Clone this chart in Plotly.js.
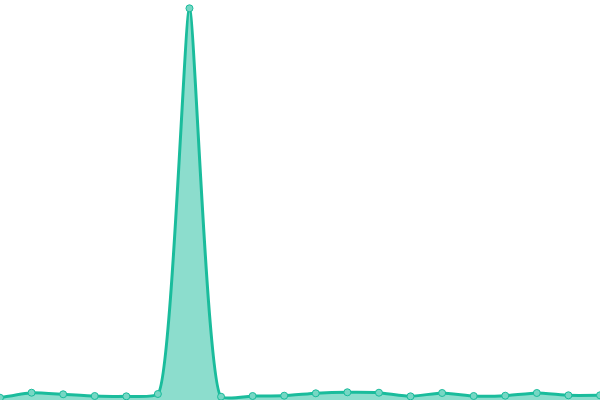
<!DOCTYPE html>
<html><head><meta charset="utf-8">
<script src="https://cdn.plot.ly/plotly-3.0.1.min.js"></script>
<style>html,body{margin:0;padding:0;background:#fff}#chart{width:600px;height:400px}</style>
</head><body><div id="chart"></div>
<script>
const xs = [0,1,2,3,4,5,6,7,8,9,10,11,12,13,14,15,16,17,18,19];
const values = [0.59,1.86,1.46,1.02,0.94,1.53,100,0.84,1.02,1.1,1.71,1.97,1.86,0.94,1.79,1.02,1.1,1.79,1.2,1.2];
Plotly.newPlot('chart', [{
  x: xs, y: values, type: 'scatter', mode: 'lines+markers',
  fill: 'tozeroy', fillcolor: 'rgba(26,188,156,0.5)',
  line: {shape: 'spline', smoothing: 0.45, color: '#1abc9c', width: 3},
  marker: {size: 7, color: '#76d7c4', line: {color: '#1abc9c', width: 1}},
  hoverinfo: 'none'
}], {
  width: 600, height: 400,
  margin: {l: 0, r: 0, t: 0, b: 0},
  paper_bgcolor: '#fff', plot_bgcolor: '#fff',
  showlegend: false,
  xaxis: {range: [0, 19], visible: false, fixedrange: true},
  yaxis: {range: [0, 102.12], visible: false, fixedrange: true}
}, {displayModeBar: false, staticPlot: true});
</script></body></html>
